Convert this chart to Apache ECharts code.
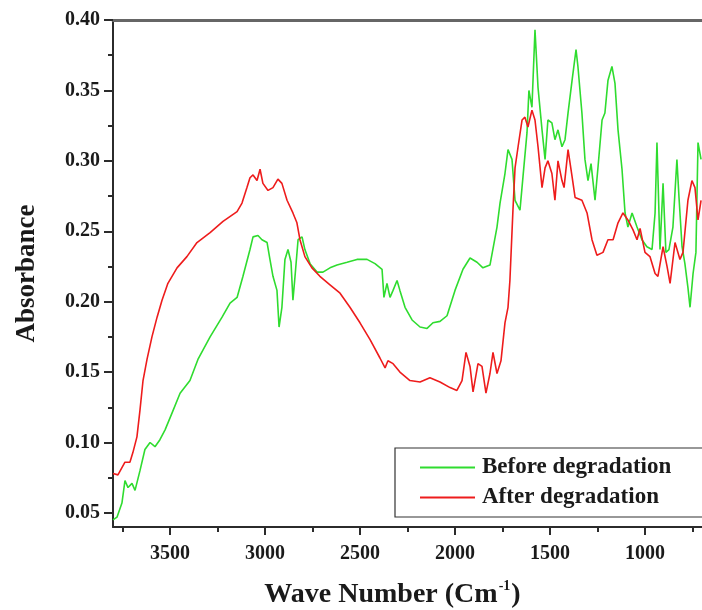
<!DOCTYPE html>
<html>
<head>
<meta charset="utf-8">
<script src="https://cdn.jsdelivr.net/npm/echarts@6/dist/echarts.min.js"></script>
<style>
html,body{margin:0;padding:0;background:#fff;}
#chart{width:702px;height:610px;}
</style>
</head>
<body>
<div id="chart"></div>
<script>
// Before degradation (green)
const waveBefore = [
3800,3779,3753,3737,3721,3700,3684,3658,3632,3605,
3579,3553,3526,3489,3447,3395,3353,3289,3226,3184,
3147,3116,3079,3063,3037,3016,2989,2974,2958,2937,
2926,2911,2895,2879,2863,2853,2842,2826,2805,2790,
2763,2726,2695,2658,2621,2568,2516,2463,2421,2384,
2374,2358,2342,2326,2305,2290,2263,2226,2184,2147,
2116,2079,2042,2000,1958,1921,1884,1853,1816,1779,
1763,1737,1721,1700,1684,1658,1642,1621,1611,1595,
1579,1563,1542,1526,1511,1490,1474,1458,1437,1421,
1405,1384,1363,1353,1332,1316,1300,1284,1263,1247,
1226,1211,1195,1174,1158,1142,1121,1105,1090,1068,
1042,1016,990,963,947,937,932,921,905,890,
874,853,832,821,805,790,774,763,747,732,
721,705];
const absBefore = [
0.045,0.047,0.057,0.073,0.068,0.071,0.066,0.080,0.095,0.100,
0.097,0.102,0.109,0.121,0.135,0.144,0.159,0.175,0.189,0.199,
0.203,0.218,0.237,0.246,0.247,0.244,0.242,0.230,0.218,0.208,
0.182,0.196,0.230,0.237,0.228,0.201,0.218,0.244,0.246,0.237,
0.227,0.221,0.221,0.224,0.226,0.228,0.230,0.230,0.227,0.223,
0.203,0.213,0.203,0.208,0.215,0.208,0.196,0.187,0.182,0.181,
0.185,0.186,0.190,0.208,0.223,0.231,0.228,0.224,0.226,0.253,
0.270,0.291,0.308,0.301,0.272,0.265,0.289,0.320,0.350,0.338,
0.393,0.352,0.322,0.301,0.329,0.327,0.315,0.322,0.310,0.315,
0.334,0.357,0.379,0.367,0.334,0.301,0.286,0.298,0.272,0.296,
0.329,0.334,0.357,0.367,0.355,0.322,0.294,0.263,0.253,0.263,
0.253,0.244,0.239,0.237,0.263,0.313,0.289,0.237,0.284,0.235,
0.237,0.253,0.301,0.274,0.239,0.227,0.210,0.196,0.220,0.235,
0.313,0.301];

// After degradation (red)
const waveAfter = [
3800,3774,3737,3711,3695,3674,3658,3642,3621,3595,
3568,3542,3511,3463,3411,3358,3289,3221,3147,3121,
3095,3079,3063,3042,3026,3011,2984,2958,2932,2911,
2884,2853,2832,2816,2790,2753,2711,2658,2605,2553,
2500,2447,2395,2368,2353,2326,2290,2237,2184,2132,
2079,2026,1990,1963,1942,1921,1905,1879,1858,1837,
1816,1800,1779,1758,1737,1721,1711,1695,1684,1668,
1647,1632,1616,1595,1579,1563,1542,1526,1511,1490,
1474,1458,1437,1426,1405,1384,1368,1332,1305,1279,
1253,1221,1195,1168,1142,1116,1090,1063,1042,1026,
1000,974,947,932,905,884,868,842,816,800,
774,753,737,721,705];
const absAfter = [
0.078,0.077,0.086,0.086,0.093,0.104,0.123,0.144,0.159,0.175,
0.189,0.201,0.213,0.224,0.232,0.242,0.249,0.257,0.264,0.270,
0.281,0.288,0.290,0.286,0.294,0.284,0.279,0.281,0.287,0.284,
0.272,0.263,0.256,0.244,0.232,0.224,0.218,0.212,0.206,0.196,
0.185,0.173,0.160,0.153,0.158,0.156,0.150,0.144,0.143,0.146,
0.143,0.139,0.137,0.144,0.164,0.154,0.136,0.156,0.154,0.135,
0.149,0.164,0.149,0.158,0.185,0.196,0.215,0.265,0.295,0.310,
0.329,0.331,0.324,0.336,0.329,0.310,0.281,0.295,0.300,0.291,
0.272,0.300,0.286,0.281,0.308,0.289,0.274,0.272,0.263,0.244,
0.233,0.235,0.244,0.244,0.256,0.263,0.258,0.251,0.244,0.252,
0.235,0.232,0.220,0.218,0.239,0.225,0.213,0.242,0.230,0.235,
0.272,0.286,0.281,0.258,0.272];

const xTicks = [3500,3000,2500,2000,1500,1000];
const xMinorTicks = [3750,3250,2750,2250,1750,1250,750];
const yTicks = [0.05,0.10,0.15,0.20,0.25,0.30,0.35,0.40];
const yMinorTicks = [0.075,0.125,0.175,0.225,0.275,0.325,0.375];

const zip = (a, b) => a.map((v, i) => [v, b[i]]);
const FONT = '"Liberation Serif", "Times New Roman", serif';
const AX = '#2b2b2b';

const chart = echarts.init(document.getElementById('chart'), null, {renderer: 'canvas'});
chart.setOption({
  animation: false,
  backgroundColor: '#ffffff',
  grid: {left: 113, right: 0, top: 20, bottom: 83, containLabel: false, outerBoundsMode: 'none'},
  legend: {
    orient: 'vertical',
    left: 395, top: 448,
    padding: [8, 80, 8, 25],
    itemGap: 7,
    itemWidth: 55, itemHeight: 2,
    icon: 'rect',
    borderColor: '#333', borderWidth: 1.2,
    textStyle: {fontFamily: FONT, fontWeight: 'bold', fontSize: 23, color: '#1a1a1a', padding: [0, 0, 0, 2]},
    data: ['Before degradation', 'After degradation']
  },
  xAxis: [{
    type: 'value', inverse: true, min: 700, max: 3800,
    position: 'bottom',
    name: '{a|Wave Number (Cm}{s|-1}{a|)}',
    nameLocation: 'middle', nameGap: 52,
    nameTextStyle: {
      padding: [0, 30, 0, 0],
      rich: {
        a: {fontFamily: FONT, fontWeight: 'bold', fontSize: 28, color: '#1a1a1a', lineHeight: 32},
        s: {fontFamily: FONT, fontWeight: 'bold', fontSize: 14, color: '#1a1a1a', verticalAlign: 'top', lineHeight: 32, padding: [0, 1, 14, 1]}
      }
    },
    axisLine: {show: true, onZero: false, lineStyle: {color: AX, width: 2}},
    axisTick: {show: true, inside: false, length: 8, customValues: xTicks, lineStyle: {color: AX, width: 2}},
    axisLabel: {show: true, customValues: xTicks, margin: 17, fontFamily: FONT, fontWeight: 'bold', fontSize: 20, color: '#1a1a1a',
      formatter: v => String(v)},
    splitLine: {show: false}
  }, {
    type: 'value', inverse: true, min: 700, max: 3800, position: 'bottom',
    axisLine: {show: false},
    axisTick: {show: true, inside: false, length: 5, customValues: xMinorTicks, lineStyle: {color: AX, width: 2}},
    axisLabel: {show: false}, splitLine: {show: false}
  }, {
    type: 'value', inverse: true, min: 700, max: 3800, position: 'top',
    axisLine: {show: true, onZero: false, lineStyle: {color: '#666', width: 3}},
    axisTick: {show: false}, axisLabel: {show: false}, splitLine: {show: false}
  }],
  yAxis: [{
    type: 'value', min: 0.04, max: 0.40, position: 'left',
    name: 'Absorbance', nameLocation: 'middle', nameGap: 72, nameRotate: 90,
    nameTextStyle: {fontFamily: FONT, fontWeight: 'bold', fontSize: 27, color: '#1a1a1a'},
    axisLine: {show: true, onZero: false, lineStyle: {color: AX, width: 2}},
    axisTick: {show: true, inside: false, length: 9, customValues: yTicks, lineStyle: {color: AX, width: 2}},
    axisLabel: {show: true, customValues: yTicks, margin: 13, fontFamily: FONT, fontWeight: 'bold', fontSize: 20, color: '#1a1a1a',
      formatter: v => v.toFixed(2)},
    splitLine: {show: false}
  }, {
    type: 'value', min: 0.04, max: 0.40, position: 'left',
    axisLine: {show: false},
    axisTick: {show: true, inside: false, length: 5, customValues: yMinorTicks, lineStyle: {color: AX, width: 2}},
    axisLabel: {show: false}, splitLine: {show: false}
  }],
  series: [{
    name: 'Before degradation', type: 'line', xAxisIndex: 0, yAxisIndex: 0,
    data: zip(waveBefore, absBefore), symbol: 'none', sampling: null,
    lineStyle: {color: '#2fdc2f', width: 1.6}, itemStyle: {color: '#2fdc2f'}
  }, {
    name: 'After degradation', type: 'line', xAxisIndex: 0, yAxisIndex: 0,
    data: zip(waveAfter, absAfter), symbol: 'none', sampling: null,
    lineStyle: {color: '#ee1c1c', width: 1.6}, itemStyle: {color: '#ee1c1c'}
  }]
});
</script>
</body>
</html>
